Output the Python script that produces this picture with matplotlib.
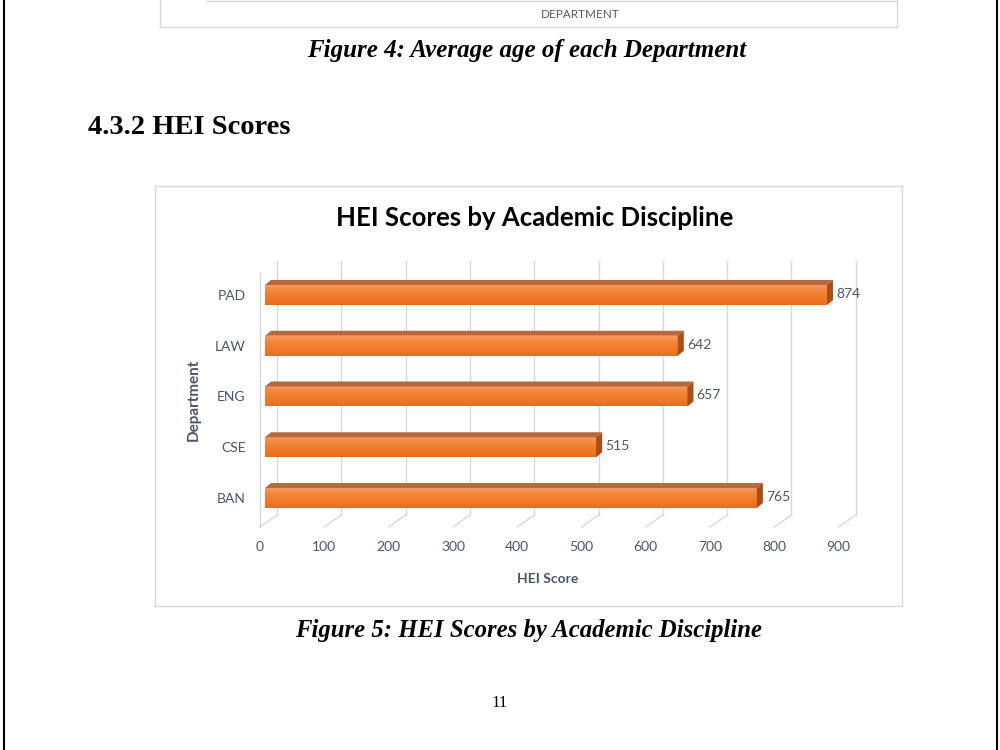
"""
HEI Scores by Academic Discipline - page screenshot recreation
"""

import numpy as np
import matplotlib
matplotlib.use("Agg")
import matplotlib.pyplot as plt
from matplotlib.lines import Line2D
from matplotlib.patches import Polygon
from matplotlib.colors import LinearSegmentedColormap
from matplotlib.transforms import ScaledTranslation

# ─── 数据 ───────────────────────────────────────────────────────────────────
departments = ["BAN", "CSE", "ENG", "LAW", "PAD"]
hei_scores  = [765, 515, 657, 642, 874]
x_ticks     = [0, 100, 200, 300, 400, 500, 600, 700, 800, 900]

chart_title = "HEI Scores by Academic Discipline"
x_label     = "HEI Score"
y_label     = "Department"
# ────────────────────────────────────────────────────────────────────────────

W, H = 1000, 750
CHART_FONT = ["Lato", "DejaVu Sans"]
PAGE_FONT  = ["Liberation Serif", "DejaVu Serif"]
TEXT_COLOR = "#4d5666"
GRID_COLOR = "#d9d9d9"

fig = plt.figure(figsize=(W / 100, H / 100), dpi=100)


def fx(px):
    return px / W


def fy(py):
    return 1 - py / H


def fig_line(x0, y0, x1, y1, color, lw):
    fig.add_artist(Line2D([fx(x0), fx(x1)], [fy(y0), fy(y1)],
                          transform=fig.transFigure, color=color, lw=lw))


# ─── 页面装饰 ───────────────────────────────────────────────────────────────
fig_line(4, 0, 4, H, "black", 1.5)
fig_line(997, 0, 997, H, "black", 1.5)

# 上一张图的残留边框
fig_line(160, 0, 160, 27, GRID_COLOR, 1.0)
fig_line(897, 0, 897, 27, GRID_COLOR, 1.0)
fig_line(160, 27, 897, 27, GRID_COLOR, 1.0)
fig_line(207, 1, 897, 1, GRID_COLOR, 1.0)
fig.text(fx(580), fy(15), "DEPARTMENT", ha="center", va="center",
         fontsize=8.5, color="#595959", family=CHART_FONT)

fig.text(fx(527), fy(50), "Figure 4: Average age of each Department",
         ha="center", va="center", fontsize=18, fontweight="bold",
         fontstyle="italic", family=PAGE_FONT)
fig.text(fx(88), fy(127), "4.3.2 HEI Scores", ha="left", va="center",
         fontsize=20.5, fontweight="bold", family=PAGE_FONT)
fig.text(fx(529), fy(631), "Figure 5: HEI Scores by Academic Discipline",
         ha="center", va="center", fontsize=17.8, fontweight="bold",
         fontstyle="italic", family=PAGE_FONT)
fig.text(fx(500), fy(703), "11", ha="center", va="center",
         fontsize=12, family=PAGE_FONT)

# 图表外框
fig_line(155, 186, 902, 186, GRID_COLOR, 1.0)
fig_line(155, 606, 902, 606, GRID_COLOR, 1.0)
fig_line(155, 186, 155, 606, GRID_COLOR, 1.0)
fig_line(902, 186, 902, 606, GRID_COLOR, 1.0)

fig.text(fx(535), fy(218), chart_title, ha="center", va="center",
         fontsize=18.5, fontweight="bold", color="black", family=CHART_FONT)

# ─── 坐标轴 ─────────────────────────────────────────────────────────────────
ax_left, ax_right, ax_top, ax_bottom = 265, 265 + 0.643 * 900, 273, 527
ax = fig.add_axes([fx(ax_left), fy(ax_bottom),
                   (ax_right - ax_left) / W, (ax_bottom - ax_top) / H])
ax.set_facecolor("none")
for s in ax.spines.values():
    s.set_visible(False)

y_pos = np.arange(len(departments))
y_lo, y_hi = -0.571, 4.433
ax.set_xlim(0, 900)
ax.set_ylim(y_lo, y_hi)
ax.set_autoscale_on(False)


def off(dx_px, dy_px):
    return ax.transData + ScaledTranslation(dx_px / 100, dy_px / 100,
                                            fig.dpi_scale_trans)


# 3D 框架：背墙网格、底面斜线、左墙
BACK_DX, BACK_DY, FRONT_DX = 12, 12, -5
inv = ax.transData.inverted()
for t in x_ticks:
    ax.plot([t, t], [y_lo, y_hi], color=GRID_COLOR, lw=1.0,
            transform=off(BACK_DX, BACK_DY), clip_on=False, zorder=1)
    # 底面斜线：从前沿到背墙
    q0 = inv.transform(off(FRONT_DX, 0).transform((t, y_lo)))
    q1 = inv.transform(off(BACK_DX, BACK_DY).transform((t, y_lo)))
    ax.plot([q0[0], q1[0]], [q0[1], q1[1]], color=GRID_COLOR, lw=1.0,
            clip_on=False, zorder=1)
ax.plot([0, 0], [y_lo, y_hi], color=GRID_COLOR, lw=1.0,
        transform=off(FRONT_DX, 0), clip_on=False, zorder=1)

# 柱子
bar_h = 0.394
dx = 6 / 0.643
dy = 5 / 50.75
grad = LinearSegmentedColormap.from_list(
    "orange_grad", ["#e66d1d", "#f07a28", "#f28436", "#f59a60"])
grad_img = np.linspace(0, 1, 64).reshape(-1, 1)

bars = ax.barh(y_pos, hei_scores, height=bar_h, color="#f07a28",
               edgecolor="none", zorder=3)
for b, v, y in zip(bars, hei_scores, y_pos):
    bot, top = y - bar_h / 2, y + bar_h / 2
    im = ax.imshow(grad_img, cmap=grad, origin="lower", aspect="auto",
                   extent=[0, v, bot, top], zorder=4)
    im.set_clip_path(b)
    ax.add_patch(Polygon([(0, top), (v, top), (v + dx, top + dy), (dx, top + dy)],
                         closed=True, facecolor="#b9683c", edgecolor="none",
                         zorder=4))
    ax.add_patch(Polygon([(v, bot), (v, top), (v + dx, top + dy), (v + dx, bot + dy)],
                         closed=True, facecolor="#a64f1a", edgecolor="none",
                         zorder=4))
    ax.text(v + dx, y, f"{v}", ha="left", va="center", fontsize=10,
            color=TEXT_COLOR, family=CHART_FONT,
            transform=off(3, 1))

ax.set_xlim(0, 900)
ax.set_ylim(y_lo, y_hi)

ax.set_xticks(x_ticks)
ax.set_xticklabels([str(t) for t in x_ticks], fontsize=10, color=TEXT_COLOR,
                   family=CHART_FONT)
ax.tick_params(axis="x", length=0, pad=10)
for lab in ax.get_xticklabels():
    lab.set_transform(lab.get_transform() +
                      ScaledTranslation(-5 / 100, 0, fig.dpi_scale_trans))

ax.set_yticks(y_pos)
ax.set_yticklabels(departments, fontsize=10, color=TEXT_COLOR, family=CHART_FONT)
ax.tick_params(axis="y", length=0, pad=14)

ax.set_xlabel(x_label, fontsize=10, fontweight="bold", color=TEXT_COLOR,
              family=CHART_FONT)
ax.xaxis.set_label_coords((548 - ax_left) / (ax_right - ax_left),
                          -(573 - ax_bottom) / (ax_bottom - ax_top))
ax.set_ylabel(y_label, fontsize=11, fontweight="bold", color=TEXT_COLOR,
              family=CHART_FONT)
ax.yaxis.set_label_coords(-(ax_left - 201) / (ax_right - ax_left), 0.5)

fig.savefig("out.png", dpi=100, facecolor="white")
